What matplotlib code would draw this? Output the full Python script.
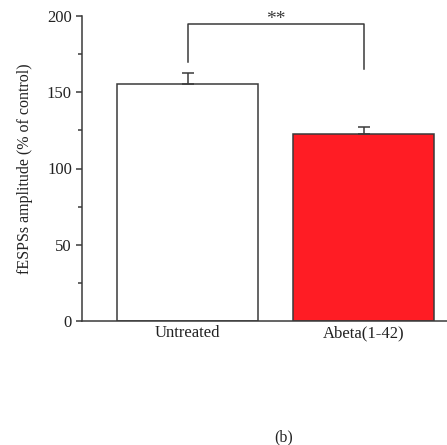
import matplotlib
matplotlib.use("Agg")
import matplotlib.pyplot as plt

# data
groups = ["Untreated", "Abeta(1-42)"]
means = [155.5, 122.5]
sem = [7.0, 4.5]
colors = ["white", "#ff1c24"]

# significance bracket (y values in data units)
bracket_top = 195
bracket_left_low = 170
bracket_right_low = 165
sig_label = "**"

plt.rcParams['font.family'] = ['Liberation Serif', 'DejaVu Serif']
line_col = "#3a3a3a"
text_col = "#222222"

fig = plt.figure(figsize=(4.47, 4.45), dpi=100)
ax = fig.add_axes([82 / 447, 124 / 445, 365 / 447, 305 / 445])

x = list(range(len(groups)))
ax.bar(x, means, width=0.8, color=colors, edgecolor=line_col, linewidth=1.1, zorder=2)
ax.errorbar(x, means, yerr=[[0] * len(sem), sem], fmt="none", ecolor=line_col,
            elinewidth=1.1, capsize=4, capthick=1.1, zorder=3)

# bracket
ax.plot([x[0], x[0], x[1], x[1]],
        [bracket_left_low, bracket_top, bracket_top, bracket_right_low],
        color=line_col, lw=1.1, clip_on=False)
ax.text((x[0] + x[1]) / 2, bracket_top - 3, sig_label, ha="center", va="bottom",
        fontsize=14, color=line_col)

ax.set_xlim(-0.6, 1.474)
ax.set_ylim(0, 200)
ax.set_yticks([0, 50, 100, 150, 200])
ax.set_yticks([25, 75, 125, 175], minor=True)
ax.set_xticks(x)
ax.set_xticklabels(groups)
ax.tick_params(axis="x", length=0, labelsize=12, pad=3, colors=text_col)
ax.tick_params(axis="y", which="major", length=4.3, width=1.1, labelsize=12,
               color=line_col, labelcolor=text_col, pad=3)
ax.tick_params(axis="y", which="minor", length=3, width=1.1, color=line_col)
for s in ["top", "right"]:
    ax.spines[s].set_visible(False)
for s in ["left", "bottom"]:
    ax.spines[s].set_color(line_col)
    ax.spines[s].set_linewidth(1.1)

ax.set_ylabel("fESPSs amplitude (% of control)", fontsize=11.5, color=text_col, labelpad=10)

fig.text(284 / 447, 1 - 437 / 445, "(b)", ha="center", va="center", fontsize=11.5,
         color=text_col)

fig.savefig("out.png", dpi=100)
